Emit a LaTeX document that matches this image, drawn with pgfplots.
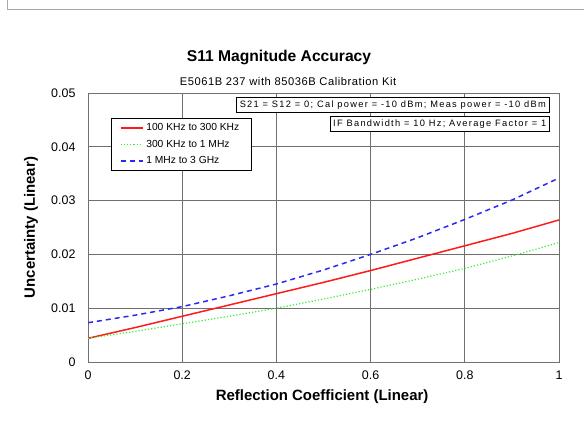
\documentclass[border=0pt]{standalone}
\usepackage{fontspec}
\setmainfont{Liberation Sans}
\newfontfamily\boxfont[LetterSpace=14]{Liberation Sans}
\newfontfamily\subfont[LetterSpace=5]{Liberation Sans}
\usepackage{pgfplots}
\pgfplotsset{compat=1.18}
\definecolor{framegray}{HTML}{A8A8A8}
\definecolor{gridgray}{HTML}{707070}
\definecolor{redline}{HTML}{FF1A1A}
\definecolor{greenline}{HTML}{33EE33}
\definecolor{blueline}{HTML}{2A2AF0}
\begin{document}
\begin{tikzpicture}
\path[use as bounding box] (0bp,0bp) rectangle (584bp,437bp);
\draw[framegray,line width=1bp] (7bp,437bp) -- (7bp,427.7bp) -- (584bp,427.7bp);
\node[font=\fontsize{15.7}{18}\selectfont\bfseries] at (279bp,380bp) {S11 Magnitude Accuracy};
\node[font=\subfont\fontsize{11.2}{13}\selectfont] at (288bp,355bp) {E5061B 237 with 85036B Calibration Kit};
\begin{axis}[
  at={(88bp,75bp)}, anchor=south west,
  width=471bp, height=269bp, scale only axis,
  xmin=0, xmax=1, ymin=0, ymax=0.05,
  xtick={0,0.2,0.4,0.6,0.8,1},
  xticklabels={0,0.2,0.4,0.6,0.8,1},
  ytick={0,0.01,0.02,0.03,0.04,0.05},
  yticklabels={0,0.01,0.02,0.03,0.04,0.05},
  scaled y ticks=false, scaled x ticks=false,
  tick label style={font=\fontsize{12.5}{14}\selectfont},
  /pgf/number format/assume math mode=true,
  major tick length=0pt,
  xticklabel style={yshift=-5bp},
  yticklabel style={xshift=-9bp},
  grid=major,
  major grid style={gridgray, line width=0.9bp},
  axis line style={gridgray, line width=1bp},
  xlabel={\bfseries Reflection Coefficient (Linear)},
  ylabel={\bfseries Uncertainty (Linear)},
  label style={font=\fontsize{15}{17}\selectfont},
  xlabel style={at={(axis description cs:0.497,-0.130)}, anchor=center},
  ylabel style={at={(axis description cs:-0.121,0.5)}, anchor=center},
  legend cell align=left,
  legend style={at={(0.048,0.906)}, anchor=north west, draw=black,
    font=\fontsize{10.3}{11}\selectfont, inner xsep=9bp, inner ysep=3bp,
    row sep=4bp, nodes={inner xsep=3bp}},
  legend image code/.code={\draw[#1] (0bp,0bp) -- (22bp,0bp);},
]
\addplot[color=redline, line width=1.5bp] coordinates {
(0,0.0044) (0.1,0.0064) (0.2,0.0085) (0.3,0.0106) (0.4,0.0127) (0.5,0.0148)
(0.6,0.0170) (0.7,0.0193) (0.8,0.0216) (0.9,0.0239) (1,0.0264)};
\addlegendentry{100 KHz to 300 KHz}
\addplot[color=greenline, line width=1.2bp, dotted] coordinates {
(0,0.0044) (0.1,0.0057) (0.2,0.0071) (0.3,0.0085) (0.4,0.0100) (0.5,0.0117)
(0.6,0.0135) (0.7,0.0154) (0.8,0.0174) (0.9,0.0197) (1,0.0222)};
\addlegendentry{300 KHz to 1 MHz}
\addplot[color=blueline, line width=1.5bp, dash pattern=on 5bp off 4bp] coordinates {
(0,0.0073) (0.1,0.0087) (0.2,0.0103) (0.3,0.0123) (0.4,0.0145) (0.5,0.0171)
(0.6,0.0200) (0.7,0.0231) (0.8,0.0265) (0.9,0.0301) (1,0.0342)};
\addlegendentry{1 MHz to 3 GHz}
\node[draw=black, fill=white, line width=0.6bp, anchor=north east, inner xsep=3bp, inner ysep=1bp,
  font=\boxfont\fontsize{9.3}{10}\selectfont, minimum height=15bp]
  at (rel axis cs:0.979,0.984) {S21 = S12 = 0; Cal power = -10 dBm; Meas power = -10 dBm};
\node[draw=black, fill=white, line width=0.6bp, anchor=north east, inner xsep=3bp, inner ysep=1bp,
  font=\boxfont\fontsize{9.3}{10}\selectfont, minimum height=15bp]
  at (rel axis cs:0.980,0.9145) {IF Bandwidth = 10 Hz; Average Factor = 1};
\end{axis}
\end{tikzpicture}
\end{document}
